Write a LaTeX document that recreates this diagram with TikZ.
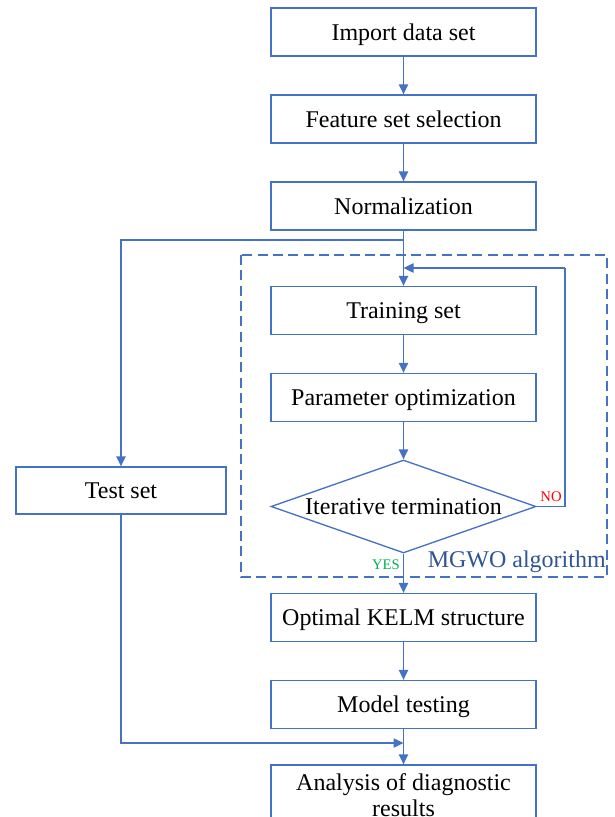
\documentclass[tikz,border=0pt]{standalone}
\usepackage{fontspec}
\setmainfont{Liberation Serif}
\usetikzlibrary{arrows.meta,shapes.geometric}
\definecolor{flowblue}{RGB}{68,114,196}
\definecolor{mgwoblue}{RGB}{47,85,151}
\definecolor{yesgreen}{RGB}{0,176,80}

\begin{document}
\begin{tikzpicture}[x=0.75pt,y=-0.75pt]
  % Styles and colors
  \tikzset{
    boxbase/.style={draw=flowblue,line width=1pt,minimum width=198.75pt,minimum height=36pt,
      inner sep=0pt,font=\fontsize{18}{19.5}\selectfont,align=center},
    box/.style={boxbase,text height=12.5pt,text depth=0pt},
    decision/.style={box,shape=diamond,aspect=2.85,minimum height=69.75pt},
    flow/.style={draw=flowblue,line width=1pt,-{Triangle[length=7.5pt,width=7pt]}},
    plain/.style={draw=flowblue,line width=1pt},
    algbox/.style={draw=flowblue,line width=1pt,dash pattern=on 7.5pt off 4pt},
    tag/.style={font=\fontsize{11}{12}\selectfont,inner sep=0pt}
  }
  \useasboundingbox (0,0) rectangle (614,817);

  % Main column
  \node[box] (import) at (403.5,32) {Import data set};
  \node[box] (feature) at (403.5,119) {Feature set selection};
  \node[box] (norm) at (403.5,206) {Normalization};
  \node[box] (train) at (403.5,310.5) {Training set};
  \node[box] (param) at (403.5,397.5) {Parameter optimization};
  \node[decision] (iter) at (403.5,506.5) {Iterative termination};
  \node[box] (kelm) at (403.5,617.5) {Optimal KELM structure};
  \node[box] (modeltest) at (403.5,704.5) {Model testing};
  \node[boxbase,minimum height=45pt] (analysis) at (403.5,795) {Analysis of diagnostic\\results};

  % Left branch
  \node[box,minimum width=157.5pt,minimum height=35.25pt] (test) at (121,490.5) {Test set};

  % MGWO frame
  \draw[algbox] (241,255) rectangle (607,577);
  \node[font=\fontsize{18}{19.5}\selectfont,text=mgwoblue,anchor=east,inner sep=0pt] (mgwo) at (606,562) {MGWO algorithm};

  \coordinate (split) at (403.5,240);
  \coordinate (loop) at (565,268);
  \coordinate (join) at (403.5,743);

  % Connectors
  \draw[flow] (import) -- (feature);
  \draw[flow] (feature) -- (norm);
  \draw[flow] (norm) -- (train);
  \draw[flow] (split) -| (test.north);
  \draw[flow] (train) -- (param);
  \draw[flow] (param) -- (iter.north);
  \draw[plain] (iter.east) -| (loop);
  \draw[flow] (loop) -- (train.north |- loop);
  \draw[flow] (iter.south) -- (kelm);
  \draw[flow] (kelm) -- (modeltest);
  \draw[flow] (modeltest) -- (analysis);
  \draw[flow] (test.south) |- (join);

  % Branch labels
  \node[tag,text=red] (no) at (551,496.5) {NO};
  \node[tag,text=yesgreen] (yes) at (386,565) {YES};
\end{tikzpicture}
\end{document}
